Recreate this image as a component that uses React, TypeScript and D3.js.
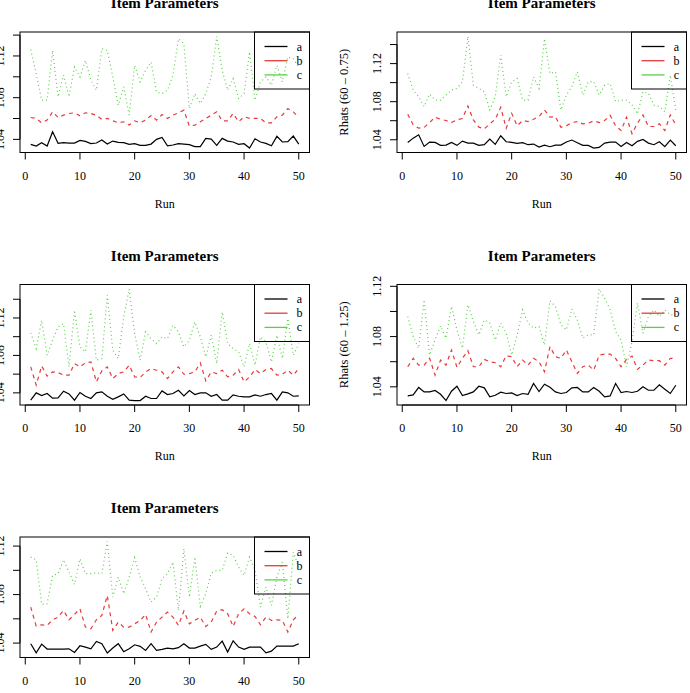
import React from 'react';
import * as d3 from 'd3';

// runs 1..50
const runs = d3.range(1, 51);
const xTicks = [0, 10, 20, 30, 40, 50];
const seriesNames = ['a', 'b', 'c'];

// panel 1 (top left)
const p1a = [1.0352,1.0336,1.0368,1.0336,1.0473,1.0362,1.0368,1.0365,1.0365,1.0390,1.0381,1.0359,1.0365,1.0394,1.0355,1.0384,1.0371,1.0368,1.0352,1.0359,1.0343,1.0343,1.0355,1.0400,1.0419,1.0339,1.0346,1.0359,1.0355,1.0349,1.0330,1.0330,1.0410,1.0403,1.0343,1.0410,1.0384,1.0375,1.0352,1.0359,1.0317,1.0406,1.0375,1.0362,1.0339,1.0429,1.0375,1.0378,1.0432,1.0355];
const p1b = [1.0610,1.0601,1.0559,1.0585,1.0664,1.0610,1.0632,1.0648,1.0655,1.0626,1.0655,1.0648,1.0632,1.0591,1.0601,1.0578,1.0559,1.0569,1.0537,1.0578,1.0559,1.0585,1.0629,1.0585,1.0639,1.0601,1.0632,1.0655,1.0680,1.0527,1.0537,1.0569,1.0601,1.0632,1.0664,1.0578,1.0578,1.0648,1.0569,1.0617,1.0601,1.0601,1.0601,1.0559,1.0559,1.0617,1.0632,1.0696,1.0664,1.0610];
const p1c = [1.1260,1.1031,1.0776,1.0776,1.1254,1.0808,1.1015,1.0808,1.1094,1.0999,1.1158,1.0967,1.0871,1.1269,1.1254,1.0999,1.0728,1.0903,1.0632,1.1110,1.0951,1.1062,1.1142,1.0855,1.0839,1.0871,1.1015,1.1365,1.1317,1.0696,1.0839,1.0744,1.0839,1.0999,1.1387,1.1062,1.0871,1.0983,1.0792,1.0839,1.1238,1.0776,1.0951,1.0999,1.0919,1.1110,1.0951,1.1190,1.1174,1.1094];

// panel 2 (top right)
const p2a = [1.0372,1.0417,1.0452,1.0330,1.0376,1.0372,1.0341,1.0344,1.0372,1.0341,1.0386,1.0365,1.0365,1.0341,1.0348,1.0407,1.0351,1.0442,1.0379,1.0372,1.0362,1.0369,1.0348,1.0355,1.0323,1.0344,1.0327,1.0344,1.0344,1.0376,1.0397,1.0369,1.0341,1.0341,1.0313,1.0320,1.0365,1.0376,1.0376,1.0330,1.0372,1.0337,1.0383,1.0403,1.0365,1.0348,1.0379,1.0327,1.0397,1.0337];
const p2b = [1.0668,1.0557,1.0522,1.0529,1.0581,1.0637,1.0616,1.0602,1.0581,1.0609,1.0623,1.0755,1.0609,1.0532,1.0515,1.0567,1.0616,1.0741,1.0522,1.0678,1.0546,1.0602,1.0591,1.0616,1.0643,1.0713,1.0637,1.0643,1.0532,1.0546,1.0581,1.0591,1.0567,1.0574,1.0598,1.0581,1.0602,1.0657,1.0546,1.0497,1.0637,1.0463,1.0574,1.0661,1.0539,1.0539,1.0567,1.0497,1.0661,1.0557];
const p2c = [1.1096,1.0922,1.0852,1.0748,1.0880,1.0817,1.0817,1.0870,1.0922,1.0939,1.1009,1.1485,1.0974,1.0939,1.0904,1.0713,1.0852,1.1287,1.0852,1.1009,1.1043,1.0817,1.0817,1.1061,1.0939,1.1461,1.1096,1.1113,1.0713,1.0870,1.0957,1.1113,1.0870,1.1009,1.1009,1.0870,1.0974,1.0991,1.0800,1.0817,1.0817,1.0765,1.0671,1.0904,1.0887,1.0765,1.0748,1.0696,1.1078,1.0713];

// panel 3 (middle left)
const p3a = [1.0322,1.0400,1.0372,1.0393,1.0343,1.0347,1.0418,1.0389,1.0322,1.0404,1.0364,1.0340,1.0400,1.0411,1.0364,1.0332,1.0357,1.0389,1.0322,1.0318,1.0318,1.0364,1.0340,1.0340,1.0421,1.0382,1.0393,1.0428,1.0368,1.0425,1.0382,1.0400,1.0400,1.0364,1.0382,1.0322,1.0322,1.0379,1.0364,1.0357,1.0357,1.0379,1.0364,1.0382,1.0393,1.0322,1.0411,1.0400,1.0364,1.0368];
const p3b = [1.0678,1.0482,1.0688,1.0578,1.0624,1.0617,1.0589,1.0589,1.0713,1.0678,1.0720,1.0731,1.0517,1.0635,1.0678,1.0553,1.0606,1.0624,1.0695,1.0571,1.0564,1.0624,1.0660,1.0642,1.0624,1.0553,1.0624,1.0678,1.0599,1.0606,1.0624,1.0720,1.0528,1.0624,1.0606,1.0642,1.0571,1.0589,1.0649,1.0517,1.0571,1.0649,1.0606,1.0649,1.0660,1.0589,1.0599,1.0642,1.0589,1.0660];
const p3c = [1.1041,1.0873,1.1176,1.0802,1.0962,1.1105,1.1140,1.0678,1.1283,1.0891,1.0838,1.1283,1.0749,1.0767,1.1443,1.0856,1.0767,1.1211,1.1510,1.1033,1.0749,1.1051,1.0980,1.0927,1.0998,1.0980,1.1122,1.1051,1.0891,1.0962,1.1158,1.0998,1.0784,1.1016,1.0713,1.1265,1.0927,1.0873,1.0838,1.0678,1.0927,1.0695,1.0998,1.0944,1.0731,1.1016,1.0767,1.1194,1.0802,1.0927];

// panel 4 (middle right)
const p4a = [1.0328,1.0336,1.0395,1.0360,1.0360,1.0371,1.0341,1.0291,1.0365,1.0405,1.0331,1.0344,1.0360,1.0405,1.0392,1.0320,1.0333,1.0357,1.0347,1.0352,1.0331,1.0347,1.0341,1.0427,1.0363,1.0421,1.0397,1.0360,1.0347,1.0355,1.0392,1.0395,1.0360,1.0360,1.0395,1.0365,1.0320,1.0328,1.0427,1.0355,1.0363,1.0355,1.0365,1.0400,1.0373,1.0373,1.0416,1.0381,1.0347,1.0413];
const p4b = [1.0560,1.0627,1.0573,1.0573,1.0627,1.0493,1.0613,1.0573,1.0693,1.0555,1.0627,1.0688,1.0560,1.0560,1.0619,1.0600,1.0592,1.0560,1.0648,1.0640,1.0560,1.0613,1.0573,1.0627,1.0600,1.0520,1.0720,1.0640,1.0627,1.0693,1.0600,1.0507,1.0560,1.0573,1.0533,1.0653,1.0661,1.0661,1.0627,1.0560,1.0619,1.0645,1.0539,1.0573,1.0613,1.0608,1.0608,1.0573,1.0627,1.0627];
const p4c = [1.0960,1.0800,1.0707,1.1093,1.0653,1.0773,1.0885,1.0787,1.1040,1.0853,1.0707,1.1053,1.0920,1.0813,1.0933,1.0907,1.0773,1.0907,1.0827,1.0653,1.0813,1.1013,1.0907,1.0867,1.0880,1.0733,1.1085,1.1040,1.0893,1.0853,1.1019,1.0933,1.0787,1.0813,1.0813,1.1179,1.1107,1.1013,1.0840,1.0773,1.0560,1.0760,1.1067,1.0827,1.0960,1.1013,1.0960,1.1013,1.0973,1.0973];

// panel 5 (bottom left)
const p5a = [1.0395,1.0320,1.0392,1.0351,1.0351,1.0351,1.0351,1.0353,1.0323,1.0378,1.0367,1.0353,1.0414,1.0395,1.0318,1.0359,1.0395,1.0329,1.0353,1.0386,1.0373,1.0340,1.0395,1.0340,1.0348,1.0359,1.0353,1.0362,1.0395,1.0359,1.0359,1.0375,1.0389,1.0348,1.0367,1.0416,1.0326,1.0419,1.0367,1.0348,1.0367,1.0367,1.0367,1.0320,1.0334,1.0375,1.0375,1.0375,1.0375,1.0395];
const p5b = [1.0697,1.0540,1.0551,1.0546,1.0592,1.0614,1.0669,1.0592,1.0636,1.0683,1.0532,1.0518,1.0592,1.0628,1.0793,1.0504,1.0573,1.0532,1.0532,1.0559,1.0587,1.0636,1.0491,1.0573,1.0614,1.0656,1.0614,1.0546,1.0664,1.0559,1.0587,1.0614,1.0537,1.0573,1.0664,1.0675,1.0642,1.0537,1.0642,1.0683,1.0642,1.0620,1.0551,1.0614,1.0587,1.0592,1.0587,1.0491,1.0592,1.0636];
const p5c = [1.1109,1.1087,1.0719,1.0724,1.0958,1.0972,1.1087,1.0985,1.0884,1.1095,1.0972,1.0972,1.0980,1.0972,1.1238,1.0779,1.0944,1.0807,1.0944,1.1104,1.0944,1.0848,1.0738,1.0779,1.0931,1.0972,1.1068,1.0669,1.1178,1.0779,1.1109,1.0702,1.0807,1.0977,1.0999,1.0999,1.1142,1.1123,1.1027,1.0958,1.1109,1.0999,1.0697,1.0862,1.0711,1.0944,1.1068,1.0601,1.1150,1.1027];

const yLabels = ['', 'Rhats (60 \u2013 0.75)', '', 'Rhats (60 \u2013 1.25)', ''];
const panelData = [
  [p1a, p1b, p1c],
  [p2a, p2b, p2c],
  [p3a, p3b, p3c],
  [p4a, p4b, p4c],
  [p5a, p5b, p5c],
];

// layout
const W = 690;
const H = 693;
const boxW = 289.5;
const boxH = 120.5;
const colLeft = [20, 397];
const rowTop = [32, 284.5, 537];
const colors = ['#000000', '#E63B3B', '#5CCF4A'];
const dashes = [null, '4,4', '1,3'];
const font = '"Liberation Serif", "DejaVu Serif", serif';

// R style: extend range 4% on each side
const pad = (lo: number, hi: number) => {
  const d = (hi - lo) * 0.04;
  return [lo - d, hi + d];
};

const Panel = ({ idx, series, ylab }: { idx: number; series: number[][]; ylab: string }) => {
  const left = colLeft[idx % 2];
  const top = rowTop[Math.floor(idx / 2)];
  const right = left + boxW;
  const bottom = top + boxH;

  const all = series.flat();
  const [y0, y1] = pad(d3.min(all) as number, d3.max(all) as number);
  const x = d3.scaleLinear().domain(pad(1, 50)).range([left, right]);
  const y = d3.scaleLinear().domain([y0, y1]).range([bottom, top]);

  const yTicks = d3
    .range(Math.ceil(y0 / 0.02 - 1e-9), Math.floor(y1 / 0.02 + 1e-9) + 1)
    .map((k) => Math.round(k * 2) / 100);
  const fmt = d3.format('.2f');

  const line = d3
    .line<number>()
    .x((_, i) => x(runs[i]))
    .y((d) => y(d));

  const cx = (left + right) / 2;
  const cy = (top + bottom) / 2;

  return (
    <g>
      <text x={cx} y={top - 24} textAnchor="middle" fontSize={15} fontWeight="bold">
        Item Parameters
      </text>

      {series.map((s, i) => (
        <path
          key={i}
          d={line(s) || ''}
          fill="none"
          stroke={colors[i]}
          strokeWidth={1.2}
          strokeDasharray={dashes[i] || undefined}
        />
      ))}

      <rect x={left} y={top} width={boxW} height={boxH} fill="none" stroke="#000" strokeWidth={1} />

      {/* x axis */}
      <line x1={x(0)} x2={x(50)} y1={bottom} y2={bottom} stroke="#000" />
      {xTicks.map((t) => (
        <g key={t}>
          <line x1={x(t)} x2={x(t)} y1={bottom} y2={bottom + 7} stroke="#000" />
          <text x={x(t)} y={bottom + 27} textAnchor="middle" fontSize={12}>
            {t}
          </text>
        </g>
      ))}
      <text x={cx} y={bottom + 55} textAnchor="middle" fontSize={12}>
        Run
      </text>

      {/* y axis */}
      <line x1={left} x2={left} y1={y(yTicks[0])} y2={y(yTicks[yTicks.length - 1])} stroke="#000" />
      {yTicks.map((t, i) => (
        <g key={t}>
          <line x1={left - 7} x2={left} y1={y(t)} y2={y(t)} stroke="#000" />
          {i % 2 === 0 && (
            <text
              transform={`translate(${left - 16},${y(t)}) rotate(-90)`}
              textAnchor="middle"
              fontSize={12}
            >
              {fmt(t)}
            </text>
          )}
        </g>
      ))}
      {ylab && (
        <text transform={`translate(${left - 49},${cy}) rotate(-90)`} textAnchor="middle" fontSize={12.5}>
          {ylab}
        </text>
      )}

      {/* legend */}
      <rect x={right - 55} y={top} width={55} height={57} fill="none" stroke="#000" strokeWidth={1} />
      {seriesNames.map((n, i) => {
        const ly = top + 14.5 + i * 14.2;
        return (
          <g key={n}>
            <line x1={right - 45} x2={right - 22} y1={ly} y2={ly} stroke={colors[i]} strokeWidth={1.3} />
            <text x={right - 10} y={ly + 4} textAnchor="middle" fontSize={12}>
              {n}
            </text>
          </g>
        );
      })}
    </g>
  );
};

export default function App() {
  return (
    <svg
      width={W}
      height={H}
      style={{ position: 'absolute', left: 0, top: 0, background: '#fff' }}
      fontFamily={font}
    >
      <rect width={W} height={H} fill="#fff" />
      {panelData.map((s, i) => (
        <Panel key={i} idx={i} series={s} ylab={yLabels[i]} />
      ))}
    </svg>
  );
}
